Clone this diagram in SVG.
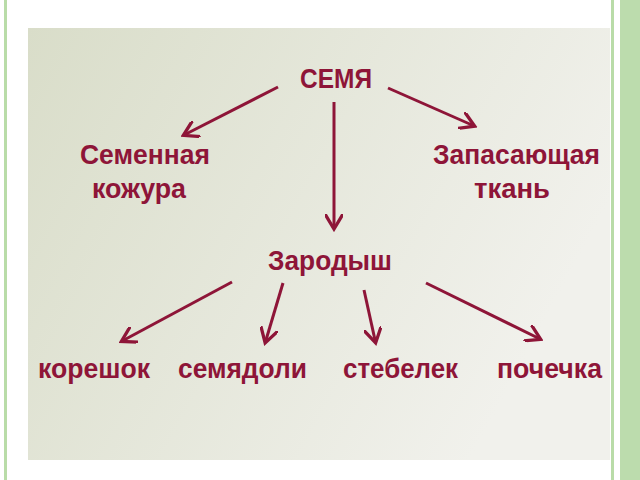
<svg xmlns="http://www.w3.org/2000/svg" width="640" height="480" viewBox="0 0 640 480">
<defs>
<linearGradient id="bg" x1="0" y1="0" x2="1" y2="0.4"><stop offset="0" stop-color="#d9ddc9"/><stop offset="1" stop-color="#f1f1ec"/></linearGradient>
<marker id="ah" markerWidth="6" markerHeight="6" refX="4" refY="3" orient="auto" markerUnits="strokeWidth"><path d="M0,0 L5,3 L0,6" fill="none" stroke="#8e1538" stroke-width="1.1"/></marker>
<style>
.t{font-family:"Liberation Sans",Arial,sans-serif;font-weight:bold;font-size:28px;fill:#8e1538}
.c line{stroke:#8e1538;stroke-width:3;marker-end:url(#ah)}
</style>
</defs>
<rect width="640" height="480" fill="#fff"/>
<rect x="4" y="0" width="3" height="480" fill="#b9dca8"/>
<rect x="611" y="0" width="3" height="480" fill="#b9dca8"/>
<rect x="620" y="0" width="20" height="480" fill="#bcdcad"/>
<rect x="28" y="28" width="582" height="432" fill="url(#bg)"/>
<g class="c">
<line x1="278" y1="87" x2="186" y2="134"/>
<line x1="388" y1="88" x2="472" y2="125"/>
<line x1="334" y1="102" x2="334" y2="226"/>
<line x1="232" y1="282" x2="124" y2="340"/>
<line x1="283" y1="283" x2="266" y2="340"/>
<line x1="364" y1="290" x2="375" y2="340"/>
<line x1="426" y1="283" x2="538" y2="338"/>
</g>
<g id="n1"><text class="t" x="300" y="88" textLength="72" lengthAdjust="spacingAndGlyphs">СЕМЯ</text></g>
<g id="n2"><text class="t" x="80" y="164" textLength="130" lengthAdjust="spacingAndGlyphs">Семенная</text><text class="t" x="92" y="198" textLength="94" lengthAdjust="spacingAndGlyphs">кожура</text></g>
<g id="n3"><text class="t" x="433" y="164" textLength="167" lengthAdjust="spacingAndGlyphs">Запасающая</text><text class="t" x="474" y="198" textLength="76" lengthAdjust="spacingAndGlyphs">ткань</text></g>
<g id="n4"><text class="t" x="268" y="270" textLength="124" lengthAdjust="spacingAndGlyphs">Зародыш</text></g>
<g id="n5"><text class="t" x="38" y="378" textLength="112" lengthAdjust="spacingAndGlyphs">корешок</text></g>
<g id="n6"><text class="t" x="178" y="378" textLength="129" lengthAdjust="spacingAndGlyphs">семядоли</text></g>
<g id="n7"><text class="t" x="343" y="378" textLength="115" lengthAdjust="spacingAndGlyphs">стебелек</text></g>
<g id="n8"><text class="t" x="497" y="378" textLength="105" lengthAdjust="spacingAndGlyphs">почечка</text></g>
</svg>
